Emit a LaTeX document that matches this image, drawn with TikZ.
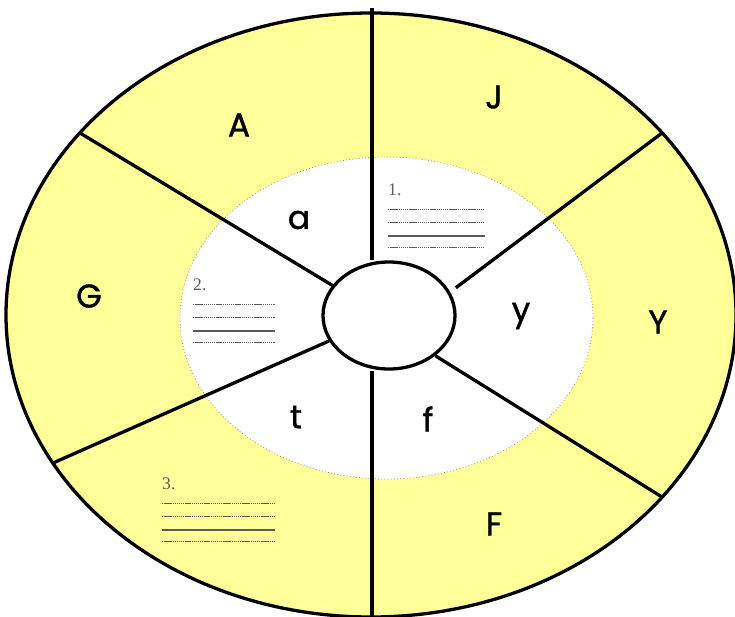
\documentclass[tikz,border=0pt]{standalone}
\usepackage{fontspec}
\setmainfont{Poppins}
\newfontfamily\labelfont{Poppins}[FakeBold=1.2]
\newfontfamily\notefont{Liberation Serif}
\definecolor{wheelyellow}{RGB}{255,255,153}
\definecolor{ringedge}{RGB}{150,150,100}
\definecolor{notegray}{RGB}{90,90,90}
\usetikzlibrary{positioning,shapes.geometric}

\tikzset{
    spoke/.style={line width=2.8pt,black},
    hubcircle/.style={ellipse,draw,line width=2.8pt,fill=white,inner sep=0pt,
        minimum width=3.96cm,minimum height=3.21cm},
    biglabel/.style={font=\labelfont\fontsize{28}{30}\selectfont},
    notenum/.style={font=\notefont\fontsize{15}{16}\selectfont,text=notegray,inner sep=0pt,anchor=west},
    noteline/.style={notegray,line width=0.6pt,dash pattern=on 1.2pt off 0.6pt},
    notesolid/.style={notegray,line width=1.4pt}
}

\begin{document}
\begin{tikzpicture}[x=0.03cm,y=-0.03cm]
    \useasboundingbox (0,0) rectangle (735,616);
    \clip (0,0) rectangle (735,616);

    % outer ring and inner ring
    \filldraw[fill=wheelyellow,draw=black,line width=2.8pt] (371,315) ellipse [x radius=365,y radius=302];
    \filldraw[fill=white,draw=ringedge,dotted,line width=0.7pt] (386.5,318) ellipse [x radius=206.5,y radius=161];

    % centre
    \node[hubcircle] (hub) at (389,315.5) {};

    % rim points
    \coordinate (rimtop) at (372,8);
    \coordinate (rimbot) at (372,616);
    \coordinate (rimnw) at (80,133);
    \coordinate (rimne) at (662,133);
    \coordinate (rimse) at (662,497);
    \coordinate (rimsw) at (53,463);

    \draw[spoke] (rimtop) -- (rimtop |- hub.north);
    \draw[spoke] (rimbot) -- (rimbot |- hub.south);
    \draw[spoke] (rimnw) -- (hub.152);
    \draw[spoke,shorten >=6pt] (rimne) -- (hub.21);
    \draw[spoke] (rimse) -- (hub.-41);
    \draw[spoke] (rimsw) -- (hub.203);

    % sector labels
    \node[biglabel] (lblA) at (239,125) {A};
    \node[biglabel] (lblJ) at (494,97) {J};
    \node[biglabel] (lblG) at (89,296) {G};
    \node[biglabel] (lblY) at (658,322) {Y};
    \node[biglabel] (lblF) at (494,524) {F};
    \node[biglabel] (lbla) at (299,220) {a};
    \node[biglabel] (lbly) at (521,316) {y};
    \node[biglabel] (lblt) at (296,417) {t};
    \node[biglabel] (lblf) at (428,419) {f};

    % note blocks
    \foreach \nx/\ny/\nr/\nn in {388/190/485/1, 193/285/275/2, 162/484/275/3}{
        \node[notenum] (note\nn) at (\nx,\ny) {\nn.};
        \draw[noteline] (\nx,\ny+19) -- (\nr,\ny+19);
        \draw[noteline] (\nx,\ny+32) -- (\nr,\ny+32);
        \draw[notesolid] (\nx,\ny+46) -- (\nr,\ny+46);
        \draw[noteline] (\nx,\ny+57) -- (\nr,\ny+57);
    }
\end{tikzpicture}
\end{document}
